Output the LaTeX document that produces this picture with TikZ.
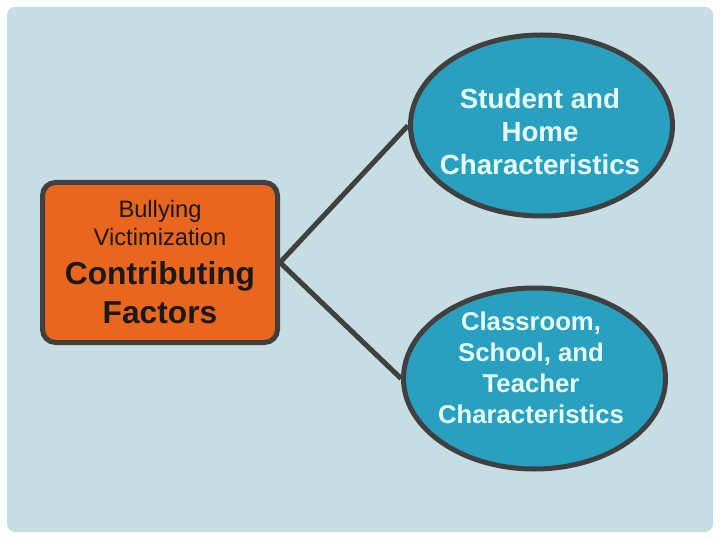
\documentclass[tikz,border=0pt]{standalone}
\usepackage{fontspec}
\setmainfont{Liberation Sans}
\usetikzlibrary{shapes.geometric,backgrounds}

\definecolor{panel}{HTML}{C6DDE3}
\definecolor{rim}{HTML}{404040}
\definecolor{factorfill}{HTML}{E8661E}
\definecolor{blobfill}{HTML}{2AA0C0}
\definecolor{blobink}{HTML}{E6FFFF}

\tikzset{
    factorbox/.style={draw=rim, line width=5pt, fill=factorfill, rounded corners=13pt,
        minimum width=235pt, minimum height=160pt, inner sep=0pt,
        text width=230pt, align=center, text=black!90},
    blob/.style={ellipse, draw=rim, line width=5pt, fill=blobfill,
        minimum width=262pt, minimum height=181pt, inner sep=0pt},
    blobtext/.style={align=center, text=blobink, font=\bfseries\fontsize{27.7}{33}\selectfont},
    link/.style={draw=rim, line width=5pt}
}

\begin{document}
\begin{tikzpicture}[x=1pt, y=-1pt]
        \useasboundingbox (0,0) rectangle (720,540);
        \node[factorbox] (factors) at (160, 262.5) {%
            {\fontsize{23.7}{28}\selectfont Bullying\\Victimization\par}%
            {\fontsize{31.7}{39}\selectfont\bfseries Contributing\\Factors\par}};
        \node[blob] (home) at (541.5, 125.5) {};
        \node[blob] (school) at (534.5, 378.5) {};
        \node[blobtext] at (540, 132) {Student and\\Home\\Characteristics};
        \node[blobtext, font=\bfseries\fontsize{25.7}{31}\selectfont] at (531, 368) {Classroom,\\School, and\\Teacher\\Characteristics};
        \begin{scope}[on background layer]
            \fill[panel, rounded corners=8pt] (7, 7) rectangle (713, 532);
            \draw[link] (home.west) -- (factors.east) -- (school.west);
        \end{scope}
    \end{tikzpicture}
\end{document}
